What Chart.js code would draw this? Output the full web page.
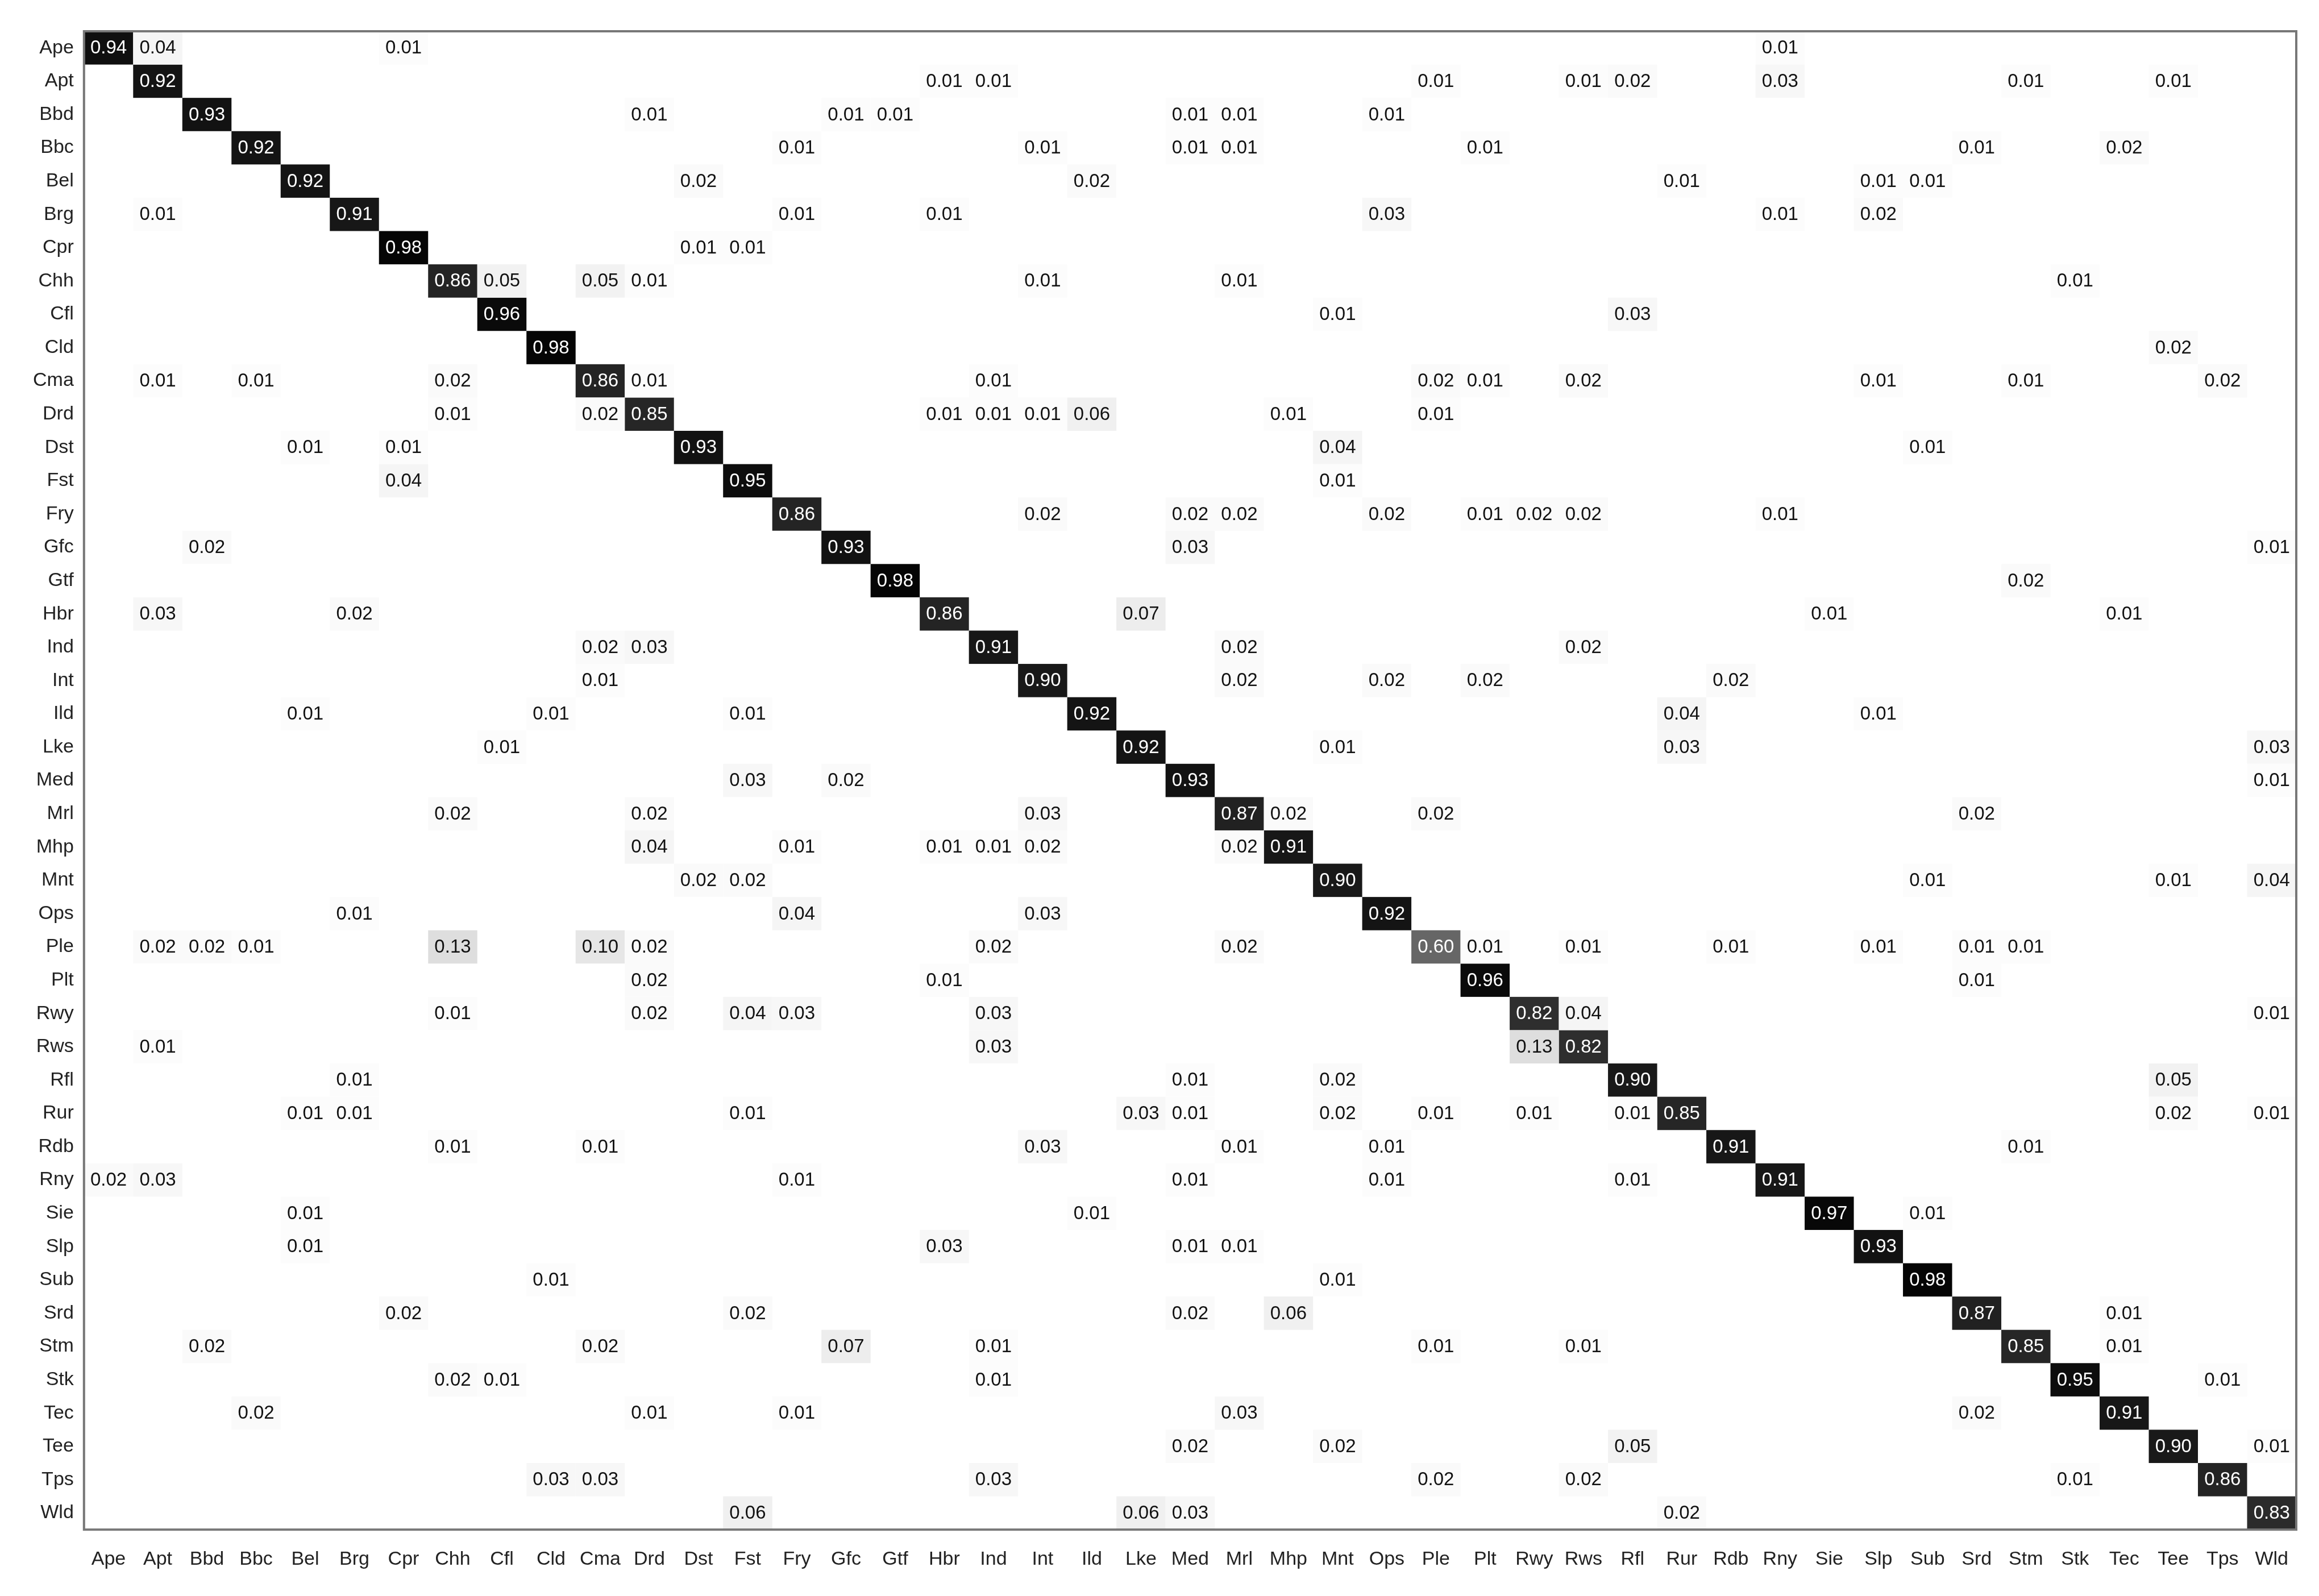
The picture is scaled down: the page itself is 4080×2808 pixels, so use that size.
<!DOCTYPE html>
<html><head><meta charset="utf-8">
<script src="https://cdn.jsdelivr.net/npm/chart.js@4/dist/chart.umd.min.js"></script>
<style>html,body{margin:0;padding:0;background:#fff}#wrap{width:4080px;height:2808px}</style>
</head><body><div id="wrap"><canvas id="c" width="4080" height="2808"></canvas></div>
<script>
const categories = ["Ape","Apt","Bbd","Bbc","Bel","Brg","Cpr","Chh","Cfl","Cld","Cma","Drd","Dst","Fst","Fry","Gfc","Gtf","Hbr","Ind","Int","Ild","Lke","Med","Mrl","Mhp","Mnt","Ops","Ple","Plt","Rwy","Rws","Rfl","Rur","Rdb","Rny","Sie","Slp","Sub","Srd","Stm","Stk","Tec","Tee","Tps","Wld"];
const diagonal = [0.94,0.92,0.93,0.92,0.92,0.91,0.98,0.86,0.96,0.98,0.86,0.85,0.93,0.95,0.86,0.93,0.98,0.86,0.91,0.90,0.92,0.92,0.93,0.87,0.91,0.90,0.92,0.60,0.96,0.82,0.82,0.90,0.85,0.91,0.91,0.97,0.93,0.98,0.87,0.85,0.95,0.91,0.90,0.86,0.83];
// off-diagonal cells: [row, col, value]
const offDiagonal = [
[0,1,0.04],[0,6,0.01],[0,34,0.01],
[1,17,0.01],[1,18,0.01],[1,27,0.01],[1,30,0.01],[1,31,0.02],[1,34,0.03],[1,39,0.01],[1,42,0.01],
[2,11,0.01],[2,15,0.01],[2,16,0.01],[2,22,0.01],[2,23,0.01],[2,26,0.01],
[3,14,0.01],[3,19,0.01],[3,22,0.01],[3,23,0.01],[3,28,0.01],[3,38,0.01],[3,41,0.02],
[4,12,0.02],[4,20,0.02],[4,32,0.01],[4,36,0.01],[4,37,0.01],
[5,1,0.01],[5,14,0.01],[5,17,0.01],[5,26,0.03],[5,34,0.01],[5,36,0.02],
[6,12,0.01],[6,13,0.01],
[7,8,0.05],[7,10,0.05],[7,11,0.01],[7,19,0.01],[7,23,0.01],[7,40,0.01],
[8,25,0.01],[8,31,0.03],
[9,42,0.02],
[10,1,0.01],[10,3,0.01],[10,7,0.02],[10,11,0.01],[10,18,0.01],[10,27,0.02],[10,28,0.01],[10,30,0.02],[10,36,0.01],[10,39,0.01],[10,43,0.02],
[11,7,0.01],[11,10,0.02],[11,17,0.01],[11,18,0.01],[11,19,0.01],[11,20,0.06],[11,24,0.01],[11,27,0.01],
[12,4,0.01],[12,6,0.01],[12,25,0.04],[12,37,0.01],
[13,6,0.04],[13,25,0.01],
[14,19,0.02],[14,22,0.02],[14,23,0.02],[14,26,0.02],[14,28,0.01],[14,29,0.02],[14,30,0.02],[14,34,0.01],
[15,2,0.02],[15,22,0.03],[15,44,0.01],
[16,39,0.02],
[17,1,0.03],[17,5,0.02],[17,21,0.07],[17,35,0.01],[17,41,0.01],
[18,10,0.02],[18,11,0.03],[18,23,0.02],[18,30,0.02],
[19,10,0.01],[19,23,0.02],[19,26,0.02],[19,28,0.02],[19,33,0.02],
[20,4,0.01],[20,9,0.01],[20,13,0.01],[20,32,0.04],[20,36,0.01],
[21,8,0.01],[21,25,0.01],[21,32,0.03],[21,44,0.03],
[22,13,0.03],[22,15,0.02],[22,44,0.01],
[23,7,0.02],[23,11,0.02],[23,19,0.03],[23,24,0.02],[23,27,0.02],[23,38,0.02],
[24,11,0.04],[24,14,0.01],[24,17,0.01],[24,18,0.01],[24,19,0.02],[24,23,0.02],
[25,12,0.02],[25,13,0.02],[25,37,0.01],[25,42,0.01],[25,44,0.04],
[26,5,0.01],[26,14,0.04],[26,19,0.03],
[27,1,0.02],[27,2,0.02],[27,3,0.01],[27,7,0.13],[27,10,0.10],[27,11,0.02],[27,18,0.02],[27,23,0.02],[27,28,0.01],[27,30,0.01],[27,33,0.01],[27,36,0.01],[27,38,0.01],[27,39,0.01],
[28,11,0.02],[28,17,0.01],[28,38,0.01],
[29,7,0.01],[29,11,0.02],[29,13,0.04],[29,14,0.03],[29,18,0.03],[29,30,0.04],[29,44,0.01],
[30,1,0.01],[30,18,0.03],[30,29,0.13],
[31,5,0.01],[31,22,0.01],[31,25,0.02],[31,42,0.05],
[32,4,0.01],[32,5,0.01],[32,13,0.01],[32,21,0.03],[32,22,0.01],[32,25,0.02],[32,27,0.01],[32,29,0.01],[32,31,0.01],[32,42,0.02],[32,44,0.01],
[33,7,0.01],[33,10,0.01],[33,19,0.03],[33,23,0.01],[33,26,0.01],[33,39,0.01],
[34,0,0.02],[34,1,0.03],[34,14,0.01],[34,22,0.01],[34,26,0.01],[34,31,0.01],
[35,4,0.01],[35,20,0.01],[35,37,0.01],
[36,4,0.01],[36,17,0.03],[36,22,0.01],[36,23,0.01],
[37,9,0.01],[37,25,0.01],
[38,6,0.02],[38,13,0.02],[38,22,0.02],[38,24,0.06],[38,41,0.01],
[39,2,0.02],[39,10,0.02],[39,15,0.07],[39,18,0.01],[39,27,0.01],[39,30,0.01],[39,41,0.01],
[40,7,0.02],[40,8,0.01],[40,18,0.01],[40,43,0.01],
[41,3,0.02],[41,11,0.01],[41,14,0.01],[41,23,0.03],[41,38,0.02],
[42,22,0.02],[42,25,0.02],[42,31,0.05],[42,44,0.01],
[43,9,0.03],[43,10,0.03],[43,18,0.03],[43,27,0.02],[43,30,0.02],[43,40,0.01],
[44,13,0.06],[44,21,0.06],[44,22,0.03],[44,32,0.02]
];
const cells = diagonal.map((v,i)=>({x:categories[i],y:categories[i],v})).concat(
  offDiagonal.map(([r,c,v])=>({x:categories[c],y:categories[r],v})));

const matrixPlugin = {
  id:'matrix',
  beforeDatasetsDraw(chart){
    const {ctx, chartArea:a, scales:{x,y}} = chart;
    const cw = a.width/categories.length, ch = a.height/categories.length;
    ctx.save();
    ctx.textAlign='center'; ctx.textBaseline='middle';
    ctx.font='33px "Liberation Sans", Arial, sans-serif';
    for(const d of cells){
      const px = x.getPixelForValue(categories.indexOf(d.x));
      const py = y.getPixelForValue(categories.indexOf(d.y));
      const g = Math.round(255*(1-d.v));
      ctx.fillStyle=`rgb(${g},${g},${g})`;
      ctx.fillRect(px-cw/2, py-ch/2, cw, ch);
      ctx.fillStyle = d.v>0.5 ? '#fff' : '#111';
      ctx.fillText(d.v.toFixed(2), px, py+1);
    }
    ctx.strokeStyle='#777'; ctx.lineWidth=4;
    ctx.strokeRect(a.left, a.top, a.width, a.height);
    ctx.restore();
  }
};

new Chart(document.getElementById('c'), {
  type:'scatter',
  data:{datasets:[{data:[], pointRadius:0}]},
  plugins:[matrixPlugin],
  options:{
    responsive:false, animation:false,
    layout:{padding:{left:40,right:40,top:55,bottom:12}},
    plugins:{legend:{display:false},tooltip:{enabled:false}},
    scales:{
      x:{type:'category',labels:categories,offset:true,
         grid:{display:false,drawTicks:false},border:{display:false},
         ticks:{color:'#222',font:{size:34,family:'"Liberation Sans", Arial, sans-serif'},padding:32,maxRotation:0,autoSkip:false}},
      y:{type:'category',labels:categories,offset:true,
         grid:{display:false,drawTicks:false},border:{display:false},
         ticks:{color:'#222',font:{size:34,family:'"Liberation Sans", Arial, sans-serif'},padding:18,autoSkip:false}}
    }
  }
});
</script></body></html>
